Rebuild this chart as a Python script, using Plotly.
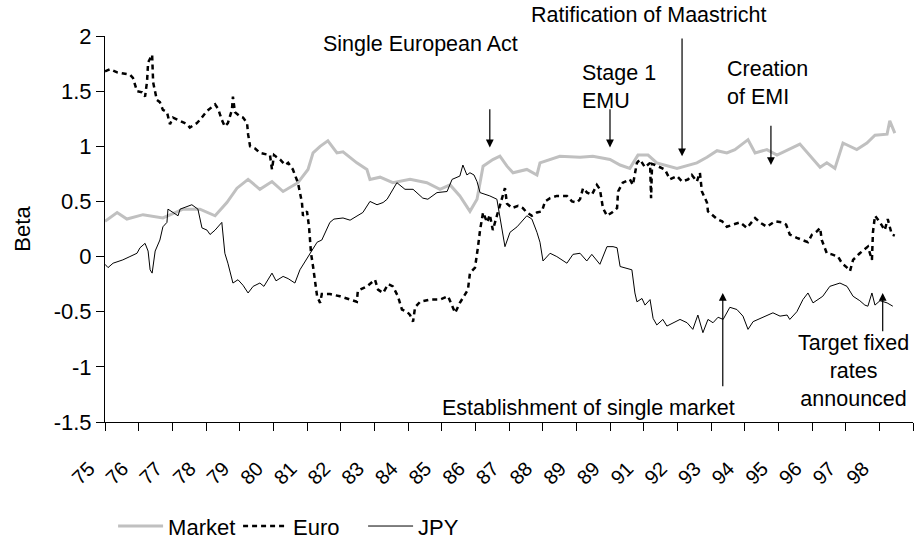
import plotly.graph_objects as go

# ---------------- data (x = decimal two-digit year) ----------------
market_year = [75.00, 75.36, 75.65, 76.13, 76.72, 77.32, 77.82, 78.27, 78.62, 78.92, 79.25, 79.60,
               79.96, 80.29, 80.73, 81.03, 81.18, 81.39, 81.62, 81.89, 82.07, 82.48, 82.78, 82.87,
               83.17, 83.55, 84.06, 84.56, 84.95, 85.25, 85.54, 85.84, 86.05, 86.23, 86.52, 86.73,
               86.94, 87.12, 87.53, 87.83, 87.92, 88.51, 89.11, 89.49, 90.00, 90.30, 90.59, 90.83,
               91.13, 91.39, 91.99, 92.58, 92.88, 93.18, 93.47, 93.71, 94.10, 94.31, 94.66, 94.96,
               95.64, 95.94, 96.24, 96.44, 96.68, 96.92, 97.33, 97.63, 97.87, 98.23, 98.31, 98.46]
market_beta = [0.32, 0.40, 0.34, 0.38, 0.35, 0.43, 0.43, 0.37, 0.49, 0.62, 0.70, 0.61,
               0.68, 0.59, 0.67, 0.79, 0.94, 1.00, 1.05, 0.94, 0.95, 0.85, 0.79, 0.70,
               0.72, 0.67, 0.70, 0.67, 0.61, 0.65, 0.55, 0.41, 0.52, 0.82, 0.88, 0.91,
               0.82, 0.76, 0.79, 0.74, 0.85, 0.91, 0.90, 0.91, 0.88, 0.83, 0.80, 0.92,
               0.92, 0.85, 0.80, 0.85, 0.90, 0.96, 0.94, 0.97, 1.06, 0.94, 0.97, 0.92,
               1.02, 0.91, 0.81, 0.85, 0.80, 1.03, 0.97, 1.03, 1.10, 1.11, 1.23, 1.12]

euro_year = [75.00, 75.15, 75.36, 75.53, 75.74, 75.83, 75.95, 76.10, 76.19, 76.25, 76.28, 76.40,
             76.43, 76.54, 76.63, 76.72, 76.84, 76.93, 77.02, 77.23, 77.44, 77.52, 77.73, 77.82,
             78.03, 78.27, 78.36, 78.47, 78.56, 78.65, 78.77, 78.80, 78.86, 79.01, 79.10, 79.22,
             79.25, 79.31, 79.46, 79.60, 79.75, 79.90, 79.96, 80.02, 80.20, 80.35, 80.44, 80.58,
             80.73, 80.85, 80.88, 81.00, 81.06, 81.12, 81.18, 81.24, 81.30, 81.39, 81.44, 81.68,
             81.98, 82.28, 82.48, 82.51, 82.78, 83.02, 83.11, 83.26, 83.41, 83.55, 83.70, 83.82,
             83.97, 84.06, 84.15, 84.21, 84.36, 84.65, 84.95, 85.19, 85.31, 85.40, 85.54, 85.78,
             85.84, 85.99, 86.08, 86.14, 86.23, 86.35, 86.43, 86.52, 86.64, 86.79, 86.88, 86.94,
             87.09, 87.27, 87.41, 87.53, 87.68, 87.83, 87.98, 88.07, 88.22, 88.42, 88.72, 88.87,
             89.02, 89.11, 89.20, 89.32, 89.46, 89.61, 89.70, 89.79, 89.91, 90.06, 90.21, 90.24,
             90.38, 90.59, 90.68, 90.80, 90.89, 91.04, 91.19, 91.22, 91.25, 91.34, 91.49, 91.63,
             91.78, 91.99, 92.14, 92.32, 92.43, 92.58, 92.67, 92.73, 92.88, 92.91, 93.03, 93.18,
             93.33, 93.47, 93.65, 93.86, 94.07, 94.31, 94.45, 94.66, 94.90, 95.11, 95.23, 95.34,
             95.55, 95.73, 95.88, 96.00, 96.15, 96.24, 96.29, 96.44, 96.59, 96.77, 96.89, 97.04,
             97.13, 97.22, 97.42, 97.66, 97.78, 97.81, 97.87, 98.02, 98.16, 98.25, 98.37, 98.46]
euro_beta = [1.68, 1.70, 1.67, 1.66, 1.65, 1.62, 1.50, 1.49, 1.45, 1.59, 1.76, 1.83,
             1.58, 1.42, 1.40, 1.33, 1.31, 1.20, 1.26, 1.23, 1.20, 1.17, 1.21, 1.24,
             1.32, 1.38, 1.34, 1.24, 1.18, 1.21, 1.33, 1.45, 1.31, 1.27, 1.26, 1.21,
             1.11, 1.00, 0.98, 0.94, 0.93, 0.92, 0.79, 0.92, 0.88, 0.83, 0.85, 0.79,
             0.67, 0.49, 0.37, 0.41, 0.27, 0.03, -0.09, -0.21, -0.36, -0.42, -0.34, -0.34,
             -0.36, -0.39, -0.41, -0.31, -0.27, -0.21, -0.30, -0.33, -0.25, -0.27, -0.36, -0.48,
             -0.50, -0.53, -0.59, -0.46, -0.41, -0.39, -0.39, -0.36, -0.45, -0.51, -0.42, -0.30,
             -0.15, -0.10, 0.09, 0.24, 0.40, 0.31, 0.38, 0.24, 0.37, 0.52, 0.62, 0.48,
             0.44, 0.46, 0.44, 0.40, 0.37, 0.40, 0.41, 0.50, 0.53, 0.55, 0.55, 0.50,
             0.49, 0.52, 0.62, 0.58, 0.56, 0.65, 0.61, 0.44, 0.37, 0.40, 0.44, 0.59,
             0.67, 0.70, 0.65, 0.85, 0.88, 0.81, 0.85, 0.53, 0.84, 0.83, 0.81, 0.79,
             0.70, 0.73, 0.68, 0.70, 0.74, 0.68, 0.76, 0.59, 0.49, 0.41, 0.38, 0.34,
             0.32, 0.27, 0.29, 0.31, 0.26, 0.35, 0.31, 0.27, 0.32, 0.31, 0.29, 0.20,
             0.17, 0.15, 0.13, 0.20, 0.23, 0.26, 0.15, 0.03, 0.02, 0.00, -0.06, -0.10,
             -0.13, -0.03, 0.03, 0.09, -0.03, 0.22, 0.37, 0.31, 0.24, 0.34, 0.20, 0.19]

jpy_year = [75.00, 75.09, 75.24, 75.53, 75.74, 75.95, 76.04, 76.19, 76.28, 76.34, 76.40, 76.49,
            76.63, 76.72, 76.84, 76.87, 77.02, 77.17, 77.23, 77.41, 77.58, 77.76, 77.88, 78.03,
            78.12, 78.27, 78.47, 78.56, 78.65, 78.80, 78.95, 79.10, 79.25, 79.40, 79.60, 79.72,
            79.96, 80.08, 80.29, 80.44, 80.64, 80.79, 81.09, 81.30, 81.44, 81.68, 81.80, 82.07,
            82.28, 82.48, 82.66, 82.87, 83.08, 83.26, 83.38, 83.67, 83.91, 84.15, 84.44, 84.59,
            84.86, 85.16, 85.31, 85.54, 85.63, 85.75, 85.84, 85.96, 86.05, 86.14, 86.43, 86.64,
            86.88, 87.03, 87.24, 87.53, 87.68, 87.83, 87.92, 88.01, 88.22, 88.42, 88.72, 88.90,
            89.11, 89.31, 89.46, 89.70, 89.91, 90.09, 90.21, 90.30, 90.65, 90.74, 90.80, 90.95,
            91.04, 91.19, 91.28, 91.39, 91.57, 91.69, 91.87, 92.08, 92.29, 92.46, 92.61, 92.76,
            92.91, 93.06, 93.21, 93.36, 93.56, 93.77, 93.95, 94.10, 94.25, 94.54, 94.84, 95.05,
            95.26, 95.34, 95.55, 95.73, 95.88, 96.03, 96.32, 96.53, 96.83, 97.04, 97.22, 97.42,
            97.57, 97.66, 97.78, 97.87, 98.02, 98.23, 98.40]
jpy_beta = [-0.07, -0.10, -0.06, -0.03, 0.00, 0.03, 0.08, 0.12, 0.05, -0.12, -0.15, 0.05,
            0.15, 0.27, 0.31, 0.43, 0.40, 0.37, 0.43, 0.45, 0.47, 0.43, 0.26, 0.24,
            0.20, 0.24, 0.31, 0.03, -0.06, -0.24, -0.21, -0.26, -0.33, -0.27, -0.24, -0.27,
            -0.15, -0.22, -0.18, -0.20, -0.24, -0.12, 0.03, 0.13, 0.15, 0.31, 0.34, 0.35,
            0.33, 0.37, 0.40, 0.50, 0.47, 0.49, 0.52, 0.67, 0.61, 0.61, 0.53, 0.52,
            0.58, 0.59, 0.70, 0.73, 0.83, 0.74, 0.76, 0.74, 0.68, 0.58, 0.55, 0.52,
            0.09, 0.22, 0.27, 0.37, 0.34, 0.22, 0.13, -0.04, 0.03, 0.00, -0.06, 0.02,
            0.03, -0.04, 0.02, -0.07, 0.09, 0.09, 0.08, -0.09, -0.12, -0.33, -0.41, -0.38,
            -0.44, -0.39, -0.56, -0.62, -0.57, -0.63, -0.60, -0.57, -0.60, -0.66, -0.53, -0.69,
            -0.57, -0.60, -0.55, -0.57, -0.46, -0.48, -0.54, -0.66, -0.59, -0.55, -0.51, -0.54,
            -0.53, -0.57, -0.50, -0.39, -0.33, -0.42, -0.36, -0.27, -0.24, -0.27, -0.36, -0.40,
            -0.44, -0.45, -0.33, -0.44, -0.40, -0.42, -0.45]

x_tick_vals = list(range(75, 100))
x_tick_text = ["75", "76", "77", "78", "79", "80", "81", "82", "83", "84", "85", "86",
               "87", "88", "89", "89", "91", "92", "93", "94", "95", "96", "97", "98", ""]
y_tick_vals = [2, 1.5, 1, 0.5, 0, -0.5, -1, -1.5]
y_tick_text = ["2", "1.5", "1", "0.5", "0", "-0.5", "-1", "-1.5"]

# event annotations: (label, arrow x, arrow tip y, arrow tail y, text x, text y, xanchor)
events = [
    ("Single European Act", 86.43, 0.99, 1.35, 84.36, 1.93, "center"),
    ("Stage 1<br>EMU", 90.00, 0.99, 1.35, 89.11, 1.54, "left"),
    ("Ratification of Maastricht", 92.14, 0.91, 1.99, 91.13, 2.19, "center"),
    ("Creation<br>of EMI", 94.78, 0.83, 1.20, 93.41, 1.57, "left"),
    ("Establishment of single market", 93.35, -0.33, -1.19, 89.37, -1.37, "center"),
    ("Target fixed<br>rates<br>announced", 98.10, -0.33, -0.69, 97.22, -1.04, "center"),
]
Y_MIN, Y_MAX = -1.5, 2.0

FONT = "Arial, 'Liberation Sans', sans-serif"

fig = go.Figure()
fig.add_trace(go.Scatter(x=market_year, y=market_beta, name="Market", mode="lines",
                         line=dict(color="#c0c0c0", width=3)))
fig.add_trace(go.Scatter(x=euro_year, y=euro_beta, name="Euro", mode="lines",
                         line=dict(color="black", width=2.5, dash="5px,4px")))
fig.add_trace(go.Scatter(x=jpy_year, y=jpy_beta, name="JPY", mode="lines",
                         line=dict(color="black", width=1)))

for label, ax_x, tip_y, tail_y, tx, ty, xa in events:
    fig.add_annotation(x=ax_x, y=tip_y, ax=ax_x, ay=tail_y, xref="x", yref="y",
                       axref="x", ayref="y", text="", showarrow=True,
                       arrowhead=2, arrowsize=1.3, arrowwidth=1.2, arrowcolor="black")
    # text placed in paper coordinates so labels above the plot area stay visible
    fig.add_annotation(x=tx, y=(ty - Y_MIN) / (Y_MAX - Y_MIN), xref="x", yref="paper",
                       text=label, showarrow=False,
                       xanchor=xa, yanchor="middle", align=xa if xa != "center" else "center",
                       font=dict(family=FONT, size=21.5, color="black"))

fig.update_layout(
    width=914, height=540,
    margin=dict(l=105, r=1, t=36, b=118, autoexpand=False),
    paper_bgcolor="white", plot_bgcolor="white",
    font=dict(family=FONT, size=20, color="black"),
    showlegend=True,
    legend=dict(orientation="h", x=0.01, xanchor="left", y=-0.27, yanchor="middle",
                font=dict(family=FONT, size=22, color="black"),
                bgcolor="rgba(0,0,0,0)", itemwidth=45, tracegroupgap=0,
                entrywidth=65, entrywidthmode="pixels"),
)
fig.update_xaxes(range=[75, 99], tickmode="array", tickvals=x_tick_vals, ticktext=x_tick_text,
                 tickangle=-45, ticks="outside", ticklen=8, tickcolor="black",
                 showline=True, linecolor="black", linewidth=1, showgrid=False, zeroline=False,
                 tickfont=dict(family=FONT, size=20, color="black"), automargin=False,
                 ticklabelstandoff=18, ticklabelshift=-16)
fig.update_yaxes(range=[Y_MIN, Y_MAX], tickmode="array", tickvals=y_tick_vals, ticktext=y_tick_text,
                 ticks="outside", ticklen=8, tickcolor="black", automargin=False,
                 showline=True, linecolor="black", linewidth=1, showgrid=False, zeroline=False,
                 tickfont=dict(family=FONT, size=22, color="black"),
                 title=dict(text="Beta", font=dict(family=FONT, size=22, color="black"), standoff=16))

fig.write_html("out.html", config={"displayModeBar": False},
               post_script="document.body.style.margin='0';")
